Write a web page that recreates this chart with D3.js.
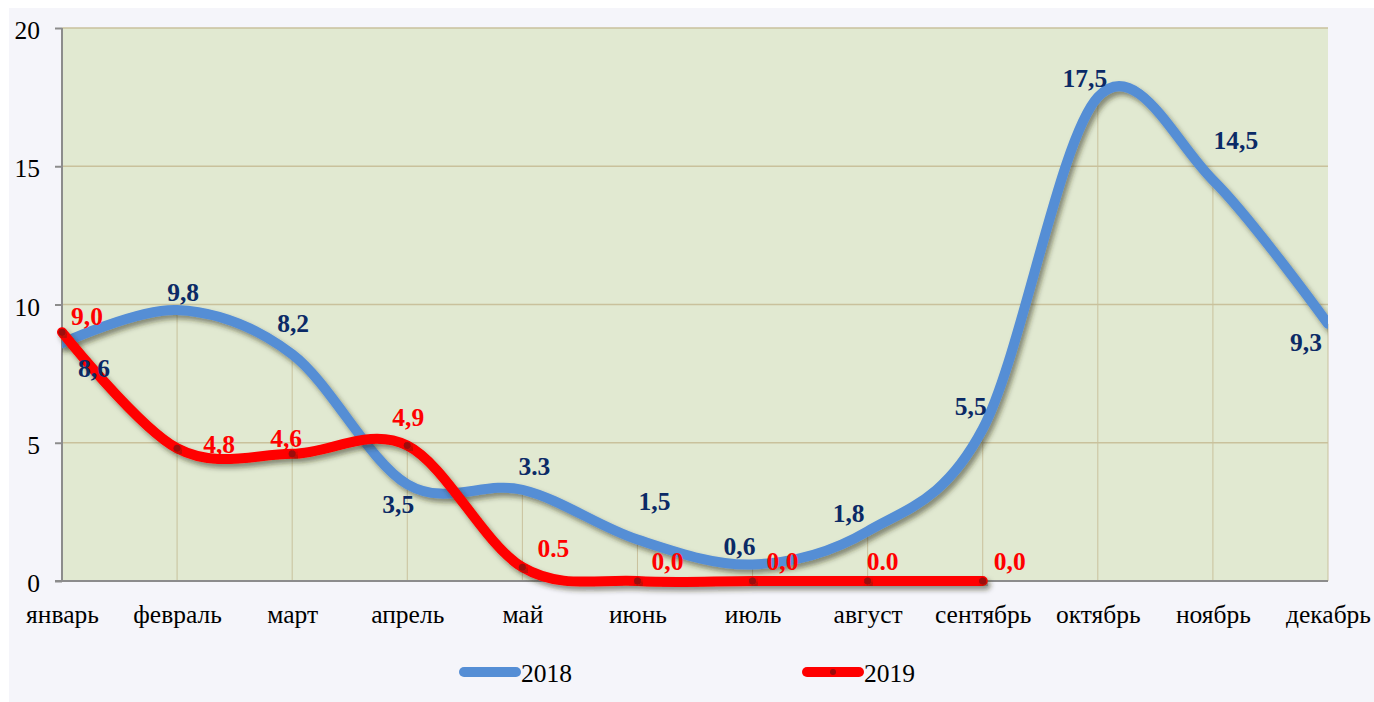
<!DOCTYPE html>
<html><head><meta charset="utf-8">
<script src="https://cdn.jsdelivr.net/npm/d3@7"></script>
<style>
html,body{margin:0;padding:0;background:#ffffff;}
svg{display:block;}
</style></head>
<body>
<svg id="chart" width="1374" height="702"></svg>
<script>
const months = ["январь","февраль","март","апрель","май","июнь","июль","август","сентябрь","октябрь","ноябрь","декабрь"];
const values2018 = [8.6, 9.8, 8.2, 3.5, 3.3, 1.5, 0.6, 1.8, 5.5, 17.5, 14.5, 9.3];
const labels2018 = ["8,6","9,8","8,2","3,5","3.3","1,5","0,6","1,8","5,5","17,5","14,5","9,3"];
const values2019 = [9.0, 4.8, 4.6, 4.9, 0.5, 0.0, 0.0, 0.0, 0.0];
const labels2019 = ["9,0","4,8","4,6","4,9","0.5","0,0","0,0","0.0","0,0"];
const yTicks = [0, 5, 10, 15, 20];
const seriesNames = ["2018", "2019"];

// label placement offsets (px) relative to the data point
const off2018 = [[32,25],[6,-18],[1,-31],[-9,20],[12,-24],[17,-38],[-13,-18],[-19,-18],[-12,-23],[-13,-19],[23,-40],[-22,18]];
const off2019 = [[25,-16],[42,-4],[-6,-16],[1,-28],[31,-19],[30,-20],[30,-20],[15,-20],[27,-20]];

const svg = d3.select("#chart");
const pL = 62, pR = 1328, pT = 28, pB = 581;
const serif = "'Liberation Serif','Times New Roman',serif";
const FS = 25.5;

svg.append("rect").attr("x",9).attr("y",8).attr("width",1365).attr("height",694).attr("fill","#f5f5fa");

const x = d3.scalePoint().domain(months).range([pL, pR]);
const y = d3.scaleLinear().domain([0, 20]).range([pB, pT]);

const defs = svg.append("defs");
const f = defs.append("filter").attr("id","sh").attr("x","-10%").attr("y","-10%").attr("width","130%").attr("height","130%");
f.append("feDropShadow").attr("dx",3).attr("dy",4).attr("stdDeviation",2.5).attr("flood-color","#2b2b10").attr("flood-opacity",0.5);
defs.append("clipPath").attr("id","clip").append("rect").attr("x",pL).attr("y",0).attr("width",pR-pL).attr("height",pB+20);

svg.append("rect").attr("x",pL).attr("y",pT).attr("width",pR-pL).attr("height",pB-pT).attr("fill","#e1e9d1");

// gridlines
svg.append("g").selectAll("line").data(yTicks.filter(d=>d>0)).join("line")
  .attr("x1",pL).attr("x2",pR).attr("y1",d=>y(d)).attr("y2",d=>y(d))
  .attr("stroke","#c9c19c").attr("stroke-width",1.5);

// drop lines
svg.append("g").selectAll("line").data(months.slice(1)).join("line")
  .attr("x1",d=>x(d)).attr("x2",d=>x(d))
  .attr("y1",(d,i)=>{const j=i+1; const v=Math.max(values2018[j], j<values2019.length?values2019[j]:-1); return y(v);})
  .attr("y2",pB).attr("stroke","#c9c19c").attr("stroke-width",1);

// axes
const yAxis = d3.axisLeft(y).tickValues(yTicks).tickSize(7).tickFormat(d3.format("d"));
const ga = svg.append("g").attr("transform",`translate(${pL},0)`).call(yAxis);
ga.select(".domain").attr("stroke","#8c8c8c").attr("stroke-width",2).attr("d",`M0,${pT}V${pB}`);
ga.selectAll(".tick line").attr("stroke","#8c8c8c").attr("stroke-width",2);
ga.selectAll(".tick text").attr("font-family",serif).attr("font-size",FS).attr("fill","#000").attr("x",-22).attr("dy","0.42em");

const xAxis = d3.axisBottom(x).tickSize(0);
const gx = svg.append("g").attr("transform",`translate(0,${pB})`).call(xAxis);
gx.select(".domain").attr("stroke","#8c8c8c").attr("stroke-width",2).attr("d",`M${pL-7},0H${pR}`);
gx.selectAll(".tick text").attr("font-family",serif).attr("font-size",FS).attr("fill","#000").attr("y",24);

// lines
const line = d3.line().curve(d3.curveCatmullRom.alpha(0)).x((d,i)=>x(months[i])).y(d=>y(d));
svg.append("path").datum(values2018).attr("d",line).attr("fill","none")
  .attr("stroke","#558ed5").attr("stroke-width",10).attr("stroke-linecap","round")
  .attr("filter","url(#sh)").attr("clip-path","url(#clip)");
svg.append("path").datum(values2019).attr("d",line).attr("fill","none")
  .attr("stroke","#ff0000").attr("stroke-width",10).attr("stroke-linecap","round")
  .attr("filter","url(#sh)");
svg.append("g").selectAll("circle").data(values2019).join("circle")
  .attr("cx",(d,i)=>x(months[i])).attr("cy",d=>y(d)).attr("r",3.5)
  .attr("fill","#9b0a0a").attr("filter","url(#sh)");

// data labels
svg.append("g").selectAll("text").data(values2018).join("text")
  .attr("x",(d,i)=>x(months[i])+off2018[i][0]).attr("y",(d,i)=>y(d)+off2018[i][1])
  .attr("dy","0.35em").attr("text-anchor","middle")
  .attr("font-family",serif).attr("font-weight","bold").attr("font-size",FS).attr("fill","#0b2a66")
  .text((d,i)=>labels2018[i]);
svg.append("g").selectAll("text").data(values2019).join("text")
  .attr("x",(d,i)=>x(months[i])+off2019[i][0]).attr("y",(d,i)=>y(d)+off2019[i][1])
  .attr("dy","0.35em").attr("text-anchor","middle")
  .attr("font-family",serif).attr("font-weight","bold").attr("font-size",FS).attr("fill","#ff0000")
  .text((d,i)=>labels2019[i]);

// legend
const legX = [459, 802], legColors = ["#558ed5","#ff0000"];
const lg = svg.append("g").selectAll("g").data(seriesNames).join("g").attr("transform",(d,i)=>`translate(${legX[i]},672)`);
lg.append("line").attr("x1",5).attr("x2",57).attr("y1",0).attr("y2",0)
  .attr("stroke",(d,i)=>legColors[i]).attr("stroke-width",10).attr("stroke-linecap","round");
lg.filter((d,i)=>i===1).append("circle").attr("cx",31).attr("cy",0).attr("r",3).attr("fill","#9b0a0a");
lg.append("text").attr("x",62).attr("y",10).attr("font-family",serif).attr("font-size",FS).attr("fill","#000").text(d=>d);
</script>
</body></html>
